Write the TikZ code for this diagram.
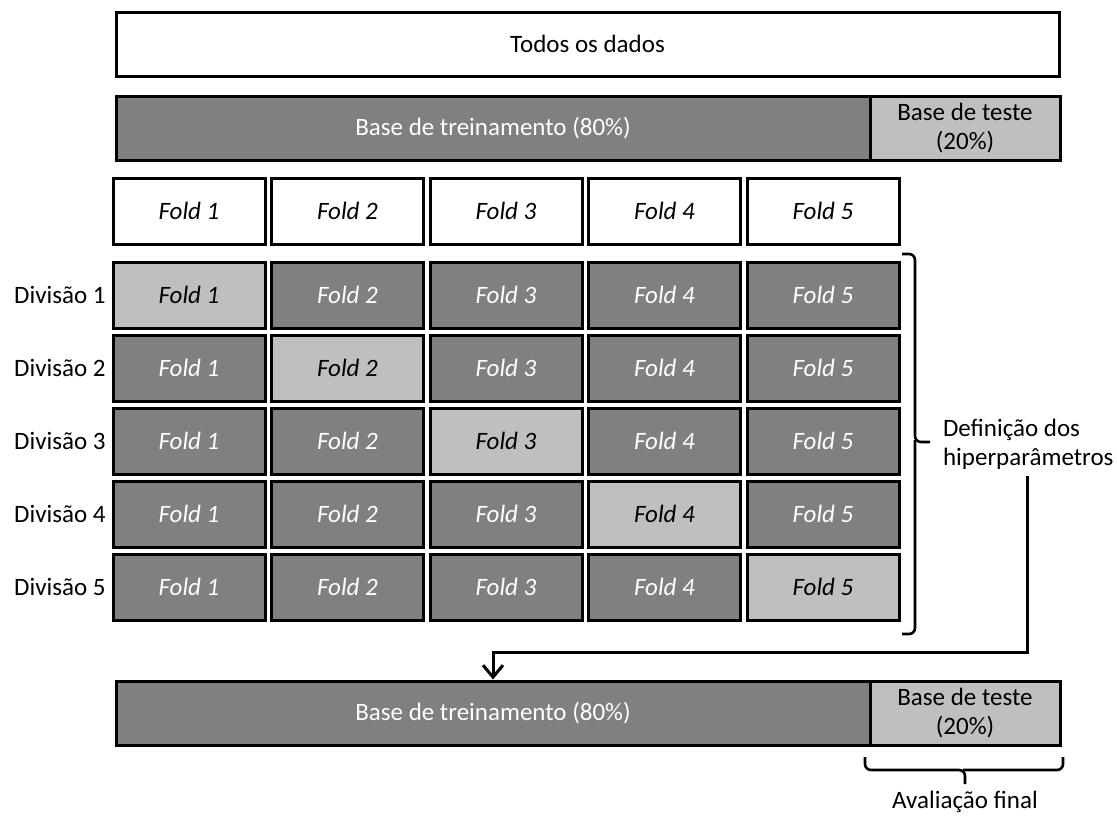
\documentclass[tikz,border=0pt]{standalone}
\usepackage{fontspec}
\setmainfont{Carlito}
\usetikzlibrary{arrows.meta}

\definecolor{escuro}{gray}{0.5}
\definecolor{claro}{gray}{0.75}

\tikzset{
  texto/.style={font=\fontsize{12.5}{14.5}\selectfont},
  caixa/.style={draw=black, line width=1.5pt, inner sep=0pt, minimum height=32pt, align=center, texto},
  dobra/.style={caixa, minimum width=76pt, minimum height=33pt, font=\fontsize{12.5}{14.5}\selectfont\itshape},
  treino/.style={caixa, fill=escuro, text=white},
  teste/.style={caixa, fill=claro},
  chave/.style={line width=1.3pt, rounded corners=3pt}
}

\begin{document}
\begin{tikzpicture}[x=0.5pt, y=-0.5pt, texto]
  \useasboundingbox (0,0) rectangle (1117,821);
  % Todos os dados
  \node[caixa, minimum width=471.5pt] (todos) at (587.5,44) {Todos os dados};
  % Primeira separacao treino/teste
  \node[treino, minimum width=377pt] (treino1) at (493,128) {Base de treinamento (80\%)};
  \node[teste, minimum width=95pt] (teste1) at (965,128) {Base de teste\\(20\%)};
  % Folds
  \foreach \j in {1,...,5}
    \node[dobra] (f\j) at ({189+158.5*(\j-1)},211) {Fold \j};
  % Divisoes da validacao cruzada
  \foreach \i in {1,...,5} {
    \node[anchor=east, inner sep=0pt] (d\i) at (106,{295+73*(\i-1)}) {Divisão \i};
    \foreach \j in {1,...,5} {
      \ifnum\i=\j
        \node[dobra, fill=claro] (c\i\j) at ({189+158.5*(\j-1)},{295+73*(\i-1)}) {Fold \j};
      \else
        \node[dobra, fill=escuro, text=white] (c\i\j) at ({189+158.5*(\j-1)},{295+73*(\i-1)}) {Fold \j};
      \fi
    }
  }
  % Chave dos hiperparametros
  \coordinate (ponta) at (930,442);
  \draw[chave] (902,254) -| (915,442) -- (ponta);
  \draw[chave] (915,440) |- (902,634);
  \node[anchor=west, align=left] (hiper) at (936,444) {Definição dos\\hiperparâmetros};
  % Base final
  \node[treino, minimum width=377pt] (treino2) at (493,713) {Base de treinamento (80\%)};
  \node[teste, minimum width=95pt] (teste2) at (965,713) {Base de teste\\(20\%)};
  % Seta
  \coordinate (canto) at (1027,652);
  \draw[line width=1.5pt, -{Straight Barb[length=6pt, width=10pt]}] (hiper.south -| canto) -- (canto) -| (treino2.north);
  % Chave da avaliacao
  \draw[chave] (865,757) |- (965,770) -- (965,784);
  \draw[chave] (963,770) -| (1063,757);
  \node (aval) at (965,802) {Avaliação final};
\end{tikzpicture}
\end{document}
